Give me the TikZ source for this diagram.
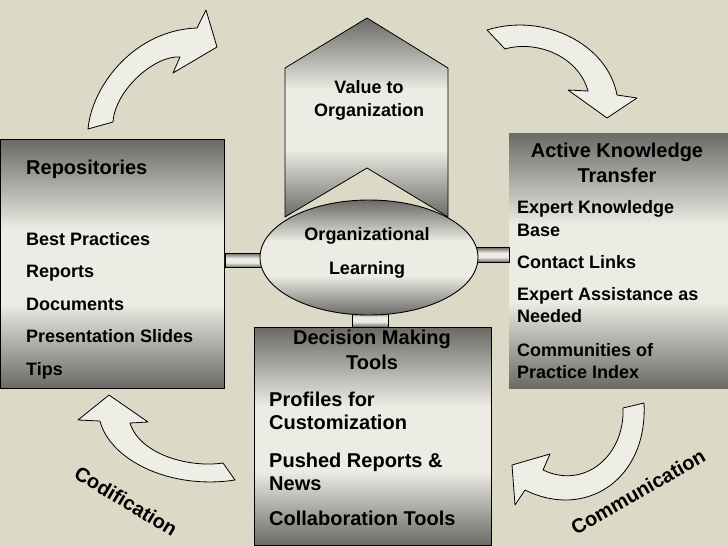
\documentclass[tikz,border=0pt]{standalone}
\usepackage{fontspec}
\setmainfont{Liberation Sans}
\usetikzlibrary{shapes.geometric,calc}
\definecolor{bg}{HTML}{DCDAC6}
\definecolor{gdark}{HTML}{696966}
\definecolor{glight}{HTML}{ECECE4}
\definecolor{arrowfill}{HTML}{EEEEE7}
\pgfdeclareverticalshading{plateau}{100bp}{color(0bp)=(gdark); color(25bp)=(gdark); color(42bp)=(glight); color(57bp)=(glight); color(75bp)=(gdark); color(100bp)=(gdark)}
\begin{document}
\begin{tikzpicture}[x=1pt,y=-1pt,
  gshade/.style={shading=plateau},
  gbox/.style={rectangle, inner sep=0pt, gshade},
  barstyle/.style={draw=black, line width=0.8pt, gshade},
  arr/.style={draw=black, line width=0.8pt, fill=arrowfill, line join=round},
  txt/.style={font=\bfseries\fontsize{18}{22}\selectfont, inner sep=0pt},
  txtb/.style={font=\bfseries\fontsize{20}{24}\selectfont, inner sep=0pt},
  lbl/.style={font=\bfseries\fontsize{20}{24}\selectfont, inner sep=0pt}]
\useasboundingbox (0,0) rectangle (728,546);
\fill[bg] (0,0) rectangle (728,546);

% boxes
\node[gbox, draw=black, line width=0.9pt, anchor=north west, minimum width=224pt, minimum height=249pt] (repo) at (0,139) {};
\node[gbox, anchor=north west, minimum width=219pt, minimum height=255pt] (akt) at (509,133) {};
\node[gbox, draw=black, line width=0.9pt, anchor=north west, minimum width=237pt, minimum height=218pt] (dmt) at (254,327) {};

% value chevron
\draw[gshade, line width=0.8pt] (285,68) -- (367,18) -- (448,68) -- (448,217) -- (367,168) -- (285,217) -- cycle;

% connector bars
\coordinate (orgc) at (369,257.5);
\draw[barstyle] (repo.east |- 0,253) rectangle ($(orgc)+(-106,10)$);
\draw[barstyle] ($(orgc)+(105,-10)$) rectangle (akt.west |- 0,262);
\draw[barstyle] ($(orgc)+(-17,54)$) rectangle ($(dmt.north)+(15.5,0)$);

% ellipse
\node[ellipse, draw=black, line width=0.9pt, gshade, minimum width=218pt, minimum height=115pt, inner sep=0pt] (org) at (orgc) {};

% curved arrows
\draw[arr] (88,129) .. controls (92,85) and (135,30) .. (197,28) -- (206,10) -- (217,47) -- (173,73) -- (180,57) .. controls (155,55) and (115,90) .. (113,122) -- cycle;
\draw[arr] (487,30) .. controls (545,12) and (608,45) .. (617,95) -- (637,98) -- (607,118) -- (568,90) -- (588,91) .. controls (578,55) and (535,40) .. (505,49) -- cycle;
\draw[arr] (109,395) -- (148,422) -- (130,423) .. controls (140,455) and (190,468) .. (223,463) -- (235,480) .. controls (170,490) and (110,460) .. (100,421) -- (78,420) -- cycle;
\draw[arr] (512,465) -- (550,454) -- (543,470) .. controls (585,490) and (625,455) .. (623,408) -- (644,403) .. controls (648,480) and (585,520) .. (525,490) -- (515,505) -- cycle;

% texts: repositories
\node[txtb, anchor=base west] (t1) at (26,174) {Repositories};
\node[txt, anchor=base west] (t2) at (26,245) {Best Practices};
\node[txt, anchor=base west] (t3) at (26,277.5) {Reports};
\node[txt, anchor=base west] (t4) at (26,310) {Documents};
\node[txt, anchor=base west] (t5) at (26,342) {Presentation Slides};
\node[txt, anchor=base west] (t6) at (26,375) {Tips};

% active knowledge transfer
\node[txtb, anchor=base] (a1) at (617,157) {Active Knowledge};
\node[txtb, anchor=base] (a2) at (617,182) {Transfer};
\node[txt, anchor=base west] (a3) at (517,213) {Expert Knowledge};
\node[txt, anchor=base west] (a4) at (517,236) {Base};
\node[txt, anchor=base west] (a5) at (517,268) {Contact Links};
\node[txt, anchor=base west] (a6) at (517,300) {Expert Assistance as};
\node[txt, anchor=base west] (a7) at (517,322) {Needed};
\node[txt, anchor=base west] (a8) at (517,356) {Communities of};
\node[txt, anchor=base west] (a9) at (517,378) {Practice Index};

% decision making tools
\node[txtb, anchor=base] (d1) at (372,344) {Decision Making};
\node[txtb, anchor=base] (d2) at (372,369) {Tools};
\node[txtb, anchor=base west] (d3) at (269,406) {Profiles for};
\node[txtb, anchor=base west] (d4) at (269,429) {Customization};
\node[txtb, anchor=base west] (d5) at (269,467) {Pushed Reports \&};
\node[txtb, anchor=base west] (d6) at (269,490) {News};
\node[txtb, anchor=base west] (d7) at (269,525) {Collaboration Tools};

% value / organizational learning
\node[txt, anchor=base] (v1) at (369,93) {Value to};
\node[txt, anchor=base] (v2) at (369,116) {Organization};
\node[txt, anchor=base] (o1) at (367,240) {Organizational};
\node[txt, anchor=base] (o2) at (367,274) {Learning};

% cycle labels
\node[lbl, rotate=-31] (cod) at (126,501) {Codification};
\node[lbl, rotate=30] (com) at (638,492) {Communication};
\end{tikzpicture}
\end{document}
